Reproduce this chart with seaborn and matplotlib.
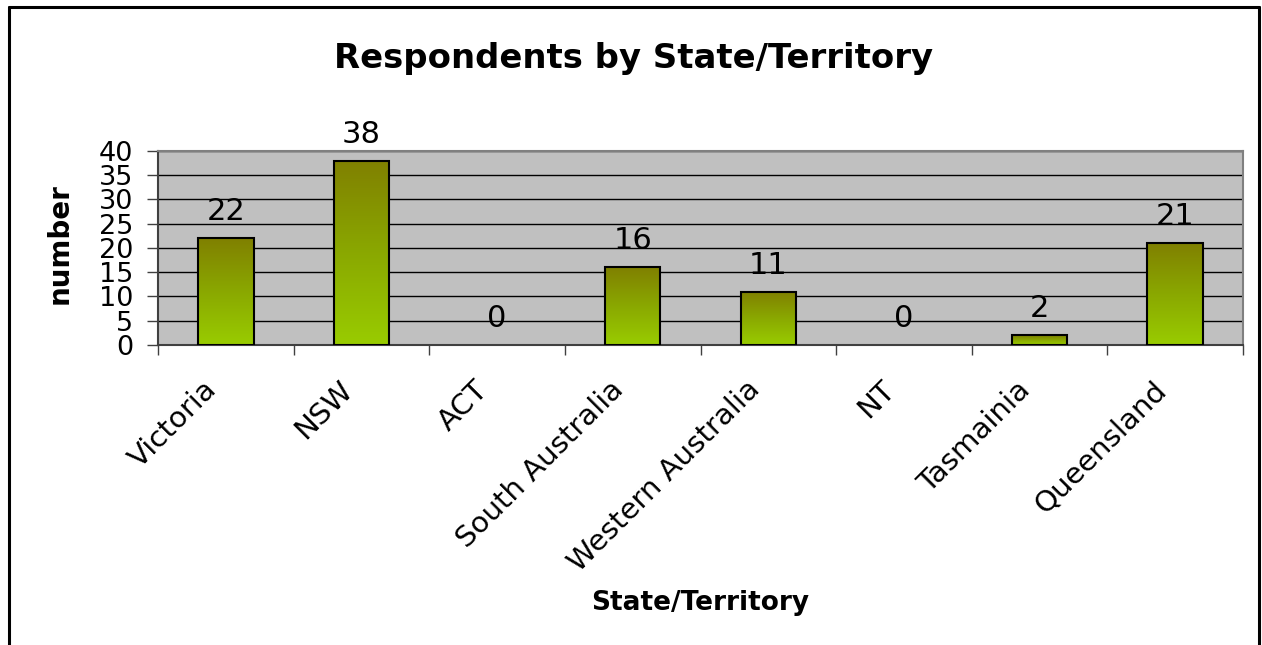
import numpy as np
import matplotlib
matplotlib.use('Agg')
import matplotlib.pyplot as plt
import matplotlib.transforms as mtransforms
from matplotlib.colors import LinearSegmentedColormap
from matplotlib.lines import Line2D
import seaborn as sns

# data
states = ['Victoria', 'NSW', 'ACT', 'South Australia', 'Western Australia',
          'NT', 'Tasmainia', 'Queensland']
counts = [22, 38, 0, 16, 11, 0, 2, 21]
y_ticks = [0, 5, 10, 15, 20, 25, 30, 35, 40]

W, H = 1262, 645
sns.set_style('white')
plt.rcParams['font.family'] = ['DejaVu Sans']
plt.rcParams['text.color'] = 'black'
plt.rcParams['xtick.color'] = 'black'
plt.rcParams['ytick.color'] = 'black'

fig = plt.figure(figsize=(W / 100, H / 100), dpi=100)
fig.patch.set_facecolor('white')
ax = fig.add_axes([158 / W, 1 - 345 / H, (1243 - 158) / W, (345 - 151) / H])
ax.set_facecolor('#C0C0C0')

sns.barplot(x=states, y=counts, ax=ax, width=0.41, color='#99CC00',
            edgecolor='black', linewidth=1.5, zorder=3)

# olive -> lime gradient inside every bar
grad = LinearSegmentedColormap.from_list('olive', ['#99CC00', '#8AA800', '#808000'])
g = np.linspace(0, 1, 256).reshape(-1, 1)
for p in ax.patches:
    x0, y0 = p.get_x(), p.get_y()
    w, h = p.get_width(), p.get_height()
    if h <= 0:
        p.set_visible(False)
        continue
    im = ax.imshow(g, cmap=grad, aspect='auto', origin='lower',
                   extent=[x0, x0 + w, y0, y0 + h], zorder=3.5)
    im.set_clip_path(p)
    p.set_facecolor('none')
    p.set_zorder(4)

ax.set_xlim(-0.5, len(states) - 0.5)
ax.set_ylim(0, 40)
ax.set_yticks(y_ticks)
ax.yaxis.grid(True, color='black', linewidth=1)
ax.set_axisbelow(True)

# value labels
for i, v in enumerate(counts):
    ax.annotate(str(v), (i, v), xytext=(0, 13), textcoords='offset points',
                ha='center', va='baseline', fontsize=22, color='black', zorder=6)

for side in ['top', 'right']:
    ax.spines[side].set_color('#808080')
    ax.spines[side].set_linewidth(1.5)
for side in ['left', 'bottom']:
    ax.spines[side].set_color('#404040')
    ax.spines[side].set_linewidth(1.5)
    ax.spines[side].set_visible(True)

ax.tick_params(axis='y', direction='out', length=8, width=1, color='#404040',
               pad=10, labelsize=19.5, left=True)
ax.set_xticks(np.arange(len(states)))
ax.set_xticks(np.arange(len(states) + 1) - 0.5, minor=True)
ax.tick_params(axis='x', which='major', length=0, pad=22, labelsize=21)
ax.tick_params(axis='x', which='minor', direction='out', length=7.2, width=1,
               color='#404040', bottom=True)
shift = mtransforms.ScaledTranslation(-23 / 100, 0, fig.dpi_scale_trans)
for lab in ax.get_xticklabels():
    lab.set_rotation(45)
    lab.set_ha('right')
    lab.set_va('top')
    lab.set_rotation_mode('anchor')
    lab.set_transform(lab.get_transform() + shift)
ax.set_xlabel('')
ax.set_ylabel('')

fig.text(634 / W, 1 - 68 / H, 'Respondents by State/Territory', ha='center',
         va='baseline', fontsize=24.4, fontweight='bold')
fig.text(60 / W, 1 - 244 / H, 'number', rotation=90, ha='center', va='center',
         fontsize=20, fontweight='bold')
fig.text(700 / W, 1 - 610 / H, 'State/Territory', ha='center', va='baseline',
         fontsize=19, fontweight='bold')

# chart frame (open at the bottom)
xl, xr, yt = 9 / W, 1259 / W, 1 - 7 / H
for xs, ys in [([xl, xl], [0, yt]), ([xl, xr], [yt, yt]), ([xr, xr], [yt, 0])]:
    fig.add_artist(Line2D(xs, ys, color='black', linewidth=2.2,
                          transform=fig.transFigure))

fig.savefig('out.png', dpi=100)
